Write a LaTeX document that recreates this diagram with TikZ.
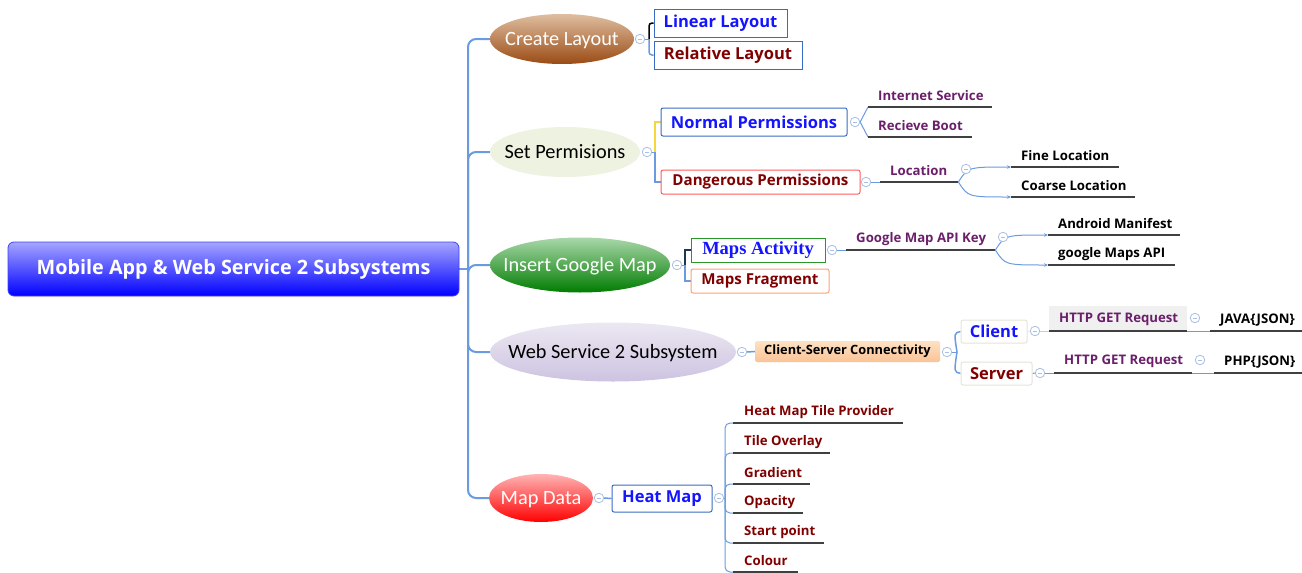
\documentclass[tikz,border=0pt]{standalone}
\usepackage{fontspec}
\setmainfont{Open Sans}
\newfontfamily\calfont{Carlito}
\newfontfamily\serfont{Liberation Serif}
\usetikzlibrary{shapes.geometric,arrows.meta,calc}
\pgfdeclarelayer{bg}
\pgfsetlayers{bg,main}
\definecolor{conn}{HTML}{6A9BE0}
\definecolor{tblue}{HTML}{1414FF}
\definecolor{tred}{HTML}{800000}
\definecolor{tpurp}{HTML}{6B1F6B}
\definecolor{ulc}{HTML}{404040}
\definecolor{cbord}{HTML}{A9BFE6}
\definecolor{bbord}{HTML}{3A6BC4}
\newcommand\rootf{\fontsize{19.8}{24}\selectfont\bfseries}
\newcommand\ellf{\calfont\fontsize{20.3}{24}\selectfont}
\newcommand\boxf{\fontsize{16.5}{20}\selectfont\bfseries}
\newcommand\boxs{\fontsize{15.1}{18}\selectfont\bfseries}
\newcommand\smallbf{\fontsize{13.2}{15}\selectfont\bfseries}
\newcommand\ub[2]{\raisebox{-1.5pt}[\height][\depth]{\makebox[#1pt][l]{#2}}}
\newcommand\zb[1]{\raisebox{-6.5pt}[0pt][0pt]{\makebox[0pt]{#1}}}
\tikzset{
  cn/.style={draw=conn, line width=1pt},
  trunk/.style={draw=conn, line width=2pt},
  ell/.style={ellipse, inner sep=0pt},
  box/.style={rectangle, draw, inner sep=0pt, line width=1pt},
  col/.style={circle, draw=cbord, fill=white, minimum size=9.5pt, inner sep=0pt, line width=0.8pt,
    path picture={\draw[cbord, line width=0.8pt] ([xshift=2.3pt]path picture bounding box.west) -- ([xshift=-2.3pt]path picture bounding box.east);}},
  item/.style={anchor=south west, inner xsep=10pt, inner ysep=0pt, minimum height=25pt, font=\smallbf},
  hitem/.style={item, inner xsep=11pt, text=tred},
  ul/.style={draw=ulc, line width=2.5pt},
  arr/.style={cn, -{Stealth[length=4pt,width=3.5pt]}}
}
\begin{document}
\begin{tikzpicture}[x=1pt,y=-1pt]
\useasboundingbox (0,0) rectangle (1302,573);
% root
\node[rectangle, rounded corners=6pt, draw=blue!75, line width=0.8pt, top color=blue!35, bottom color=blue,
  minimum width=451, minimum height=54, font=\rootf, text=white] (root) at (233.5,269) {Mobile App \& Web Service 2 Subsystems};
% main branches
\node[ell, minimum width=144, minimum height=50, top color={rgb,255:red,222;green,190;blue,160}, bottom color={rgb,255:red,155;green,75;blue,20}, font=\ellf, text=white] (e1) at (562,39) {\zb{Create Layout}};
\node[ell, minimum width=150, minimum height=50, fill={rgb,255:red,238;green,242;blue,224}, font=\ellf, text=black] (e2) at (565,152) {\zb{Set Permisions}};
\node[ell, minimum width=180, minimum height=55, top color={rgb,255:red,170;green,215;blue,170}, bottom color={rgb,255:red,0;green,125;blue,0}, font=\ellf, text=white] (e3) at (580,265) {\zb{Insert Google Map}};
\node[ell, minimum width=246, minimum height=59, top color={rgb,255:red,236;green,232;blue,242}, bottom color={rgb,255:red,205;green,195;blue,225}, font=\ellf, text=black] (e4) at (613,352) {\zb{Web Service 2 Subsystem}};
\node[ell, minimum width=104, minimum height=48, top color={rgb,255:red,255;green,180;blue,180}, bottom color={rgb,255:red,255;green,0;blue,0}, font=\ellf, text=white] (e5) at (541,498) {\zb{Map Data}};
% collapse circles
\node[col] (c1) at (640,39) {};
\node[col] (c2) at (647,152) {};
\node[col] (c3) at (677,265) {};
\node[col] (c4) at (742,352) {};
\node[col] (c5) at (599,498) {};
% level 2 boxes
\node[box, draw=bbord, minimum width=133, minimum height=28, font=\boxf, text=tblue] (ll) at (720.5,23) {Linear Layout};
\node[box, draw=bbord, minimum width=148, minimum height=28, font=\boxf, text=tred] (rl) at (728,55) {Relative Layout};
\node[box, draw=bbord, rounded corners=2pt, minimum width=186, minimum height=28, font=\boxf, text=tblue] (np) at (754,122) {Normal Permissions};
\node[box, draw={rgb,255:red,255;green,90;blue,90}, rounded corners=2pt, minimum width=199, minimum height=24, font=\boxs, text=tred] (dp) at (760.5,182) {Dangerous Permissions};
\node[box, draw={rgb,255:red,40;green,150;blue,40}, minimum width=134, minimum height=24, font=\serfont\fontsize{18.5}{20}\selectfont\bfseries, text=tblue] (ma) at (758,250) {Maps Activity};
\node[box, draw={rgb,255:red,255;green,160;blue,110}, rounded corners=2pt, minimum width=138, minimum height=24, font=\boxs, text=tred] (mf) at (760,281) {Maps Fragment};
\node[rectangle, rounded corners=1.5pt, top color={rgb,255:red,253;green,225;blue,195}, bottom color={rgb,255:red,251;green,195;blue,150}, minimum width=185, minimum height=21, inner sep=0pt, font=\fontsize{12.8}{15}\selectfont\bfseries] (csc) at (847.5,351.5) {Client-Server Connectivity};
\node[box, draw=bbord, rounded corners=2pt, minimum width=100, minimum height=27, font=\boxf, text=tblue] (hm) at (662,498.5) {Heat Map};
\node[box, draw={rgb,255:red,228;green,228;blue,216}, rounded corners=2pt, minimum width=66, minimum height=23, font=\boxf, text=tblue] (cli) at (994,331.5) {Client};
\node[box, draw={rgb,255:red,228;green,228;blue,216}, rounded corners=2pt, minimum width=71, minimum height=23, font=\boxf, text=tred] (srv) at (996.5,373.5) {Server};
% more circles
\node[col] (c6) at (855,122) {};
\node[col] (c7) at (866,182) {};
\node[col] (c8) at (966,169) {};
\node[col] (c9) at (832,250) {};
\node[col] (c10) at (1003,237) {};
\node[col] (c11) at (947,352) {};
\node[col] (c12) at (1035,331) {};
\node[col] (c13) at (1195,318) {};
\node[col] (c14) at (1040,373) {};
\node[col] (c15) at (1200,360) {};
\node[col] (c16) at (719,498) {};
% underlined items
\node[item, text=tpurp] (is) at (868,107) {\ub{104}{Internet Service}};
\node[item, text=tpurp] (rb) at (868,137) {\ub{84}{Recieve Boot}};
\node[item, text=tpurp] (loc) at (880,182) {\ub{58}{Location}};
\node[item, text=black] (fl) at (1011,167) {\ub{88}{Fine Location}};
\node[item, text=black] (co) at (1011,197) {\ub{104}{Coarse Location}};
\node[item, text=tpurp] (api) at (846,250) {\ub{129}{Google Map API Key}};
\node[item, text=black] (am) at (1048,235) {\ub{112}{Android Manifest}};
\node[item, text=black] (gm) at (1048,265) {\ub{107}{google Maps API}};
\node[item, text=tpurp, fill=black!6] (h1) at (1049,331) {\ub{118}{HTTP GET Request}};
\node[item, text=black] (jv) at (1210,331) {\ub{72}{JAVA\{JSON\}}};
\node[item, text=tpurp] (h2) at (1054,373) {\ub{118}{HTTP GET Request}};
\node[item, text=black] (php) at (1214,373) {\ub{68}{PHP\{JSON\}}};
\node[hitem] (t1) at (733,423) {\ub{148}{Heat Map Tile Provider}};
\node[hitem] (t2) at (733,453) {\ub{75}{Tile Overlay}};
\node[hitem] (t3) at (733,484) {\ub{55}{Gradient}};
\node[hitem] (t4) at (733,513) {\ub{48}{Opacity}};
\node[hitem] (t5) at (733,543) {\ub{69}{Start point}};
\node[hitem] (t6) at (733,572) {\ub{43}{Colour}};
\foreach \n in {is,rb,loc,fl,co,api,am,gm,h1,jv,h2,php,t1,t2,t3,t4,t5,t6}
  \draw[ul] (\n.south west) -- (\n.south east);
% connectors
\begin{pgfonlayer}{bg}
\coordinate (tj) at (468,269);
\draw[trunk] (root.east) -- (tj);
\foreach \b in {e1,e2,e3,e4,e5}
  \draw[trunk, rounded corners=8pt] (tj) |- (\b.west);
\coordinate (j1) at (649,39);
\draw[cn] (c1.east) -- (j1);
\draw[black, line width=1.5pt, rounded corners=3pt] (j1) |- (ll.west);
\draw[cn, line width=1.5pt, rounded corners=3pt] (j1) |- (rl.west);
\coordinate (j2) at (655,152);
\draw[cn] (c2.east) -- (j2);
\draw[draw={rgb,255:red,245;green,215;blue,60}, line width=1.2pt] (j2) |- (np.west);
\draw[cn, line width=1.2pt] (j2) |- (dp.west);
\coordinate (j3) at (685,265);
\draw[cn] (c3.east) -- (j3);
\draw[draw={rgb,255:red,30;green,55;blue,80}, line width=1.5pt] (j3) |- (ma.west);
\draw[cn, line width=1.5pt] (j3) |- (mf.west);
\draw[cn, line width=1.5pt] (c4.east) -- (csc.west);
\draw[cn, line width=1.5pt] (c5.east) -- (hm.west);
\draw[cn] (c6.east) -- (is.south west);
\draw[cn] (c6.east) -- (rb.south west);
\draw[cn] (c7.east) -- (loc.south west);
\draw[arr] (loc.south east) .. controls (968,167) .. (fl.south west);
\draw[arr] (loc.south east) .. controls (968,197) .. (co.south west);
\draw[cn] (c9.east) -- (api.south west);
\draw[arr] (api.south east) .. controls (1005,235) .. (am.south west);
\draw[arr] (api.south east) .. controls (1005,265) .. (gm.south west);
\coordinate (j4) at (957,352);
\draw[cn] (c11.east) -- (j4);
\draw[cn, line width=1.5pt] (j4) .. controls (954,333) .. (cli.west);
\draw[cn, line width=1.5pt] (j4) .. controls (954,372) .. (srv.west);
\draw[draw={rgb,255:red,170;green,230;blue,170}] (cli.east) -- (c12.west);
\draw[draw={rgb,255:red,170;green,230;blue,170}] (c12.east) -- (h1.south west);
\draw[cn] (h1.south east) -- (jv.south west);
\draw[cn] (srv.east) -- (c14.west);
\draw[cn] (c14.east) -- (h2.south west);
\draw[cn] (h2.south east) -- (php.south west);
\coordinate (hv) at (725,498);
\draw[cn] (c16.east) -- (hv);
\foreach \t in {t1,t2,t3,t4,t5,t6}
  \draw[cn, rounded corners=5pt] (hv) |- (\t.south west);
\end{pgfonlayer}
\end{tikzpicture}
\end{document}
